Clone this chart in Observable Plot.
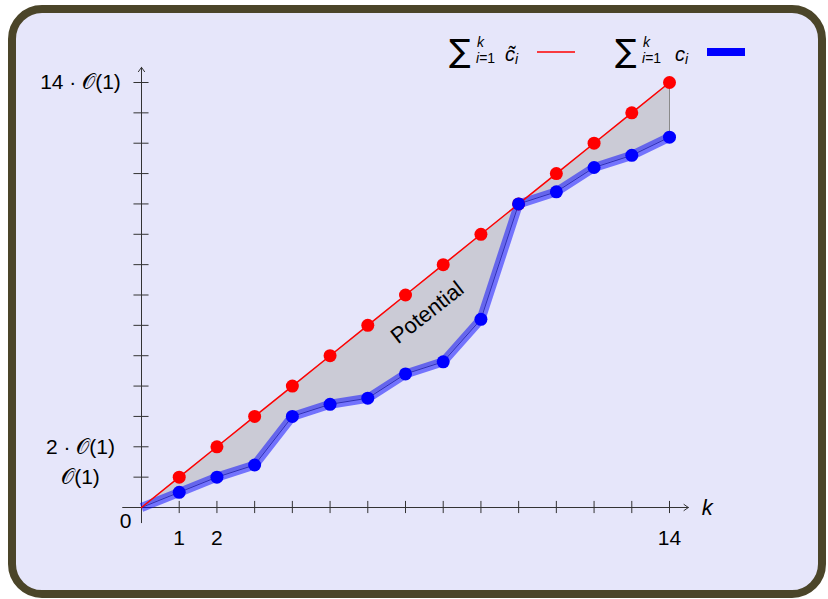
<!DOCTYPE html>
<html><head><meta charset="utf-8">
<script src="https://cdn.jsdelivr.net/npm/d3@7"></script>
<script src="https://cdn.jsdelivr.net/npm/@observablehq/plot@0.6"></script>
<style>
body{margin:0;width:828px;height:599px;background:#fff;position:relative;overflow:hidden;font-family:"Liberation Sans",Arial,sans-serif;}
#frame{position:absolute;left:8px;top:5px;width:818px;height:593px;box-sizing:border-box;border:8px solid #4b4529;border-radius:34px;background:#e6e6fa;}
#chart{position:absolute;left:0;top:0;}
#legend{position:absolute;left:0;top:0;}
</style></head>
<body>
<div id="frame"></div>
<div id="chart"></div>
<svg id="legend" width="828" height="80" font-family="Liberation Sans, Arial, sans-serif">
  <text x="449" y="62" font-size="32" font-family="DejaVu Sans">∑</text>
  <text x="477" y="47" font-size="14" font-style="italic">k</text>
  <text x="476" y="63" font-size="14"><tspan font-style="italic">i</tspan>=1</text>
  <text x="505" y="61" font-size="20" font-style="italic">c&#x0303;<tspan font-size="14" dy="3">i</tspan></text>
  <line x1="537" x2="575" y1="52" y2="52" stroke="#ff0000" stroke-width="1.5"/>
  <text x="615" y="62" font-size="32" font-family="DejaVu Sans">∑</text>
  <text x="643" y="47" font-size="14" font-style="italic">k</text>
  <text x="642" y="63" font-size="14"><tspan font-style="italic">i</tspan>=1</text>
  <text x="675" y="61" font-size="20" font-style="italic">c<tspan font-size="14" dy="3">i</tspan></text>
  <rect x="707" y="48" width="38" height="8" fill="#0000ff"/>
</svg>
<script>
// data
const ks = [0,1,2,3,4,5,6,7,8,9,10,11,12,13,14];
const amortized = [0,1,2,3,4,5,6,7,8,9,10,11,12,13,14];
const actual = [0,0.5,1.0,1.4,3.0,3.4,3.6,4.4,4.8,6.2,10.0,10.4,11.2,11.6,12.2];
const tickKs = [1,2,3,4,5,6,7,8,9,10,11,12,13,14];
const xTickLabels = [1,2,14];
const yTickValues = [1,2,14];
const yTickLabels = ["𝒪(1)","2 · 𝒪(1)","14 · 𝒪(1)"];
const areaLabel = ["Potential"];

const rows = ks.map((k,i)=>({k, amort: amortized[i], actual: actual[i]}));
const pts = rows.slice(1);
const last = [rows[rows.length-1]];
const yLab = yTickValues.map((v,i)=>({v, t: yTickLabels[i]}));

const axisCol = "#333333";
const font = "Liberation Sans, Arial, sans-serif";

const chart = Plot.plot({
  width: 828, height: 599,
  marginLeft: 141, marginRight: 159, marginTop: 82, marginBottom: 92,
  x: {domain: [0,14], axis: null},
  y: {domain: [0,14], axis: null},
  style: {background: "transparent", fontFamily: font, overflow: "visible"},
  marks: [
    Plot.areaY(rows, {x: "k", y1: "actual", y2: "amort", fill: "#cbcbd6"}),
    Plot.ruleX(last, {x: "k", y1: "actual", y2: "amort", stroke: "#8a8a8a", strokeWidth: 1}),
    Plot.arrow([0], {x1: -0.5, x2: 14.5, y1: 0, y2: 0, stroke: axisCol, strokeWidth: 1, headLength: 8, headAngle: 70}),
    Plot.arrow([0], {x1: 0, x2: 0, y1: -0.5, y2: 14.5, stroke: axisCol, strokeWidth: 1, headLength: 8, headAngle: 70}),
    Plot.ruleX(tickKs, {x: d=>d, y1: -0.2, y2: 0.2, stroke: axisCol, strokeWidth: 1}),
    Plot.ruleY(tickKs, {y: d=>d, x1: -0.2, x2: 0.2, stroke: axisCol, strokeWidth: 1}),
    Plot.line(rows, {x: "k", y: "actual", stroke: "#0000ff", strokeOpacity: 0.5, strokeWidth: 9, strokeLinejoin: "miter", strokeLinecap: "butt"}),
    Plot.line(rows, {x: "k", y: "actual", stroke: "#1a1a99", strokeOpacity: 0.75, strokeWidth: 1}),
    Plot.line(rows, {x: "k", y: "amort", stroke: "#ff0000", strokeWidth: 1.5}),
    Plot.dot(pts, {x: "k", y: "amort", r: 6.5, fill: "#ff0000"}),
    Plot.dot(pts, {x: "k", y: "actual", r: 6.5, fill: "#0000ff"}),
    Plot.text(xTickLabels, {x: d=>d, y: 0, dy: 31, text: d=>String(d), fontSize: 21, fill: "#000"}),
    Plot.text([0], {x: 0, y: 0, dx: -16, dy: 14, text: d=>String(d), fontSize: 21, fill: "#000"}),
    Plot.text(["k"], {x: 14.5, y: 0, dx: 19, text: d=>d, fontSize: 22, fontStyle: "italic", fill: "#000"}),
    Plot.text(yLab, {x: 0, y: "v", dx: -61, text: "t", fontSize: 21, textAnchor: "middle", fill: "#000"}),
    Plot.text(areaLabel, {x: 7.58, y: 6.42, text: d=>d, rotate: -38, fontSize: 22, fill: "#000"})
  ]
});
document.getElementById("chart").appendChild(chart);
</script>
</body></html>
